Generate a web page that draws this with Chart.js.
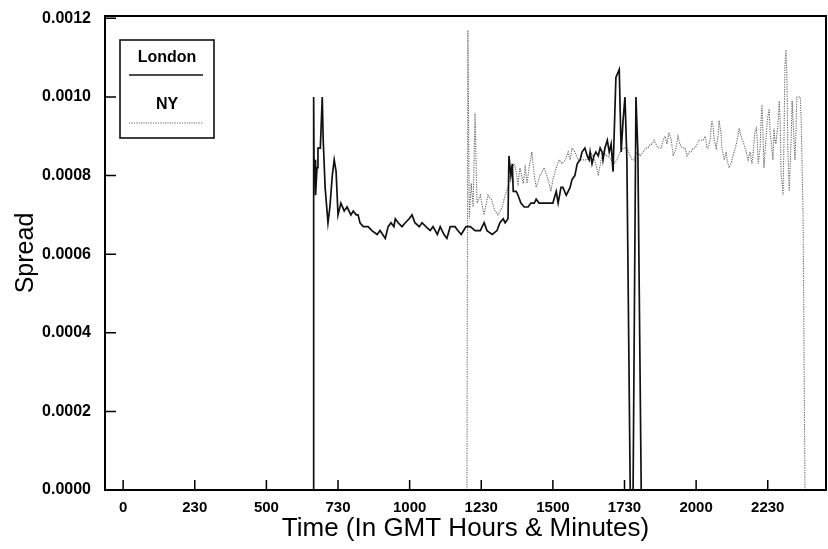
<!DOCTYPE html>
<html>
<head>
<meta charset="utf-8">
<script src="https://cdn.jsdelivr.net/npm/chart.js@4.4.1/dist/chart.umd.min.js"></script>
<style>
  html, body { margin: 0; padding: 0; background: #fff; }
  #wrap { width: 828px; height: 549px; }
</style>
</head>
<body>
<div id="wrap"><canvas id="spreadChart" width="828" height="549"></canvas></div>
<script>
// time of day in minutes after midnight GMT, spread
const londonTime = [398, 399, 400, 402, 403, 406, 408, 413, 417, 419,
  423, 429, 433, 438, 442, 446, 450, 456, 463, 469,
  477, 482, 488, 492, 496, 503, 513, 521, 532, 538,
  549, 555, 561, 567, 570, 576, 584, 591, 599, 605,
  611, 620, 626, 634, 643, 649, 658, 664, 672, 678,
  685, 695, 701, 708, 718, 727, 737, 748, 756, 762,
  773, 783, 789, 796, 800, 806, 808, 812, 815, 817,
  823, 827, 833, 840, 848, 854, 861, 865, 871, 879,
  888, 894, 900, 907, 911, 917, 921, 928, 932, 936,
  940, 946, 951, 957, 961, 967, 972, 976, 978, 982,
  986, 990, 995, 999, 1003, 1005, 1009, 1014, 1018, 1022,
  1026, 1032, 1039, 1043, 1047, 1051, 1055, 1062, 1068, 1074,
  1078, 1085];
const londonSpread = [0, 0.00100, 0.00078, 0.00084, 0.00075, 0.00082, 0.00087, 0.00087, 0.00100, 0.00089,
  0.00077, 0.00068, 0.00072, 0.00080, 0.00084, 0.00081, 0.00070, 0.00073, 0.00071, 0.00072,
  0.00070, 0.00071, 0.00070, 0.00070, 0.00068, 0.00067, 0.00067, 0.00066, 0.00065, 0.00066,
  0.00064, 0.00067, 0.00068, 0.00067, 0.00069, 0.00068, 0.00067, 0.00068, 0.00069, 0.00070,
  0.00068, 0.00067, 0.00068, 0.00067, 0.00066, 0.00067, 0.00065, 0.00067, 0.00065, 0.00064,
  0.00067, 0.00067, 0.00066, 0.00065, 0.00067, 0.00067, 0.00066, 0.00066, 0.00068, 0.00066,
  0.00065, 0.00066, 0.00068, 0.00069, 0.00068, 0.00069, 0.00085, 0.00080, 0.00083, 0.00076,
  0.00076, 0.00075, 0.00073, 0.00072, 0.00072, 0.00073, 0.00073, 0.00074, 0.00073, 0.00073,
  0.00073, 0.00073, 0.00073, 0.00076, 0.00073, 0.00077, 0.00077, 0.00075, 0.00076, 0.00077,
  0.00079, 0.00080, 0.00083, 0.00084, 0.00086, 0.00087, 0.00085, 0.00084, 0.00086, 0.00083,
  0.00085, 0.00086, 0.00085, 0.00087, 0.00086, 0.00084, 0.00087, 0.00089, 0.00086, 0.00088,
  0.00081, 0.00105, 0.00107, 0.00086, 0.00094, 0.00100, 0.00084, 0, 0, 0.00100,
  0.00086, 0];

const nyTime = [720, 722, 725, 729, 733, 737, 741, 748, 756, 764,
  771, 779, 785, 794, 800, 806, 810, 815, 819, 823,
  827, 831, 838, 842, 846, 850, 856, 861, 865, 873,
  882, 890, 896, 900, 907, 913, 919, 926, 932, 936,
  940, 946, 953, 959, 965, 972, 978, 984, 990, 995,
  1001, 1007, 1011, 1016, 1022, 1028, 1034, 1041, 1047, 1055,
  1062, 1066, 1070, 1076, 1083, 1089, 1095, 1099, 1104, 1108,
  1112, 1116, 1120, 1127, 1131, 1135, 1139, 1143, 1148, 1152,
  1158, 1162, 1166, 1171, 1177, 1181, 1185, 1189, 1194, 1198,
  1202, 1206, 1210, 1215, 1219, 1223, 1225, 1229, 1233, 1235,
  1238, 1242, 1246, 1248, 1252, 1254, 1259, 1263, 1265, 1269,
  1273, 1277, 1282, 1286, 1290, 1294, 1300, 1305, 1309, 1313,
  1317, 1319, 1323, 1326, 1328, 1330, 1334, 1336, 1338, 1340,
  1342, 1346, 1349, 1353, 1355, 1357, 1361, 1363, 1365, 1367,
  1372, 1374, 1376, 1378, 1380, 1382, 1384, 1386, 1388, 1390,
  1392, 1395, 1399, 1401, 1403, 1407, 1409, 1411, 1416, 1418,
  1420, 1422, 1424, 1428];
const nySpread = [0, 0.00117, 0.00069, 0.00078, 0.00072, 0.00096, 0.00073, 0.00075, 0.00070, 0.00075,
  0.00074, 0.00071, 0.00070, 0.00072, 0.00075, 0.00077, 0.00080, 0.00082, 0.00083, 0.00081,
  0.00078, 0.00082, 0.00078, 0.00082, 0.00078, 0.00082, 0.00086, 0.00080, 0.00077, 0.00080,
  0.00082, 0.00079, 0.00076, 0.00079, 0.00082, 0.00084, 0.00083, 0.00084, 0.00086, 0.00084,
  0.00087, 0.00086, 0.00084, 0.00084, 0.00084, 0.00084, 0.00086, 0.00085, 0.00083, 0.00080,
  0.00084, 0.00086, 0.00085, 0.00085, 0.00084, 0.00083, 0.00084, 0.00086, 0.00087, 0.00087,
  0.00085, 0.00084, 0.00084, 0.00086, 0.00085, 0.00086, 0.00087, 0.00087, 0.00088, 0.00088,
  0.00089, 0.00088, 0.00087, 0.00087, 0.00089, 0.00090, 0.00088, 0.00091, 0.00089, 0.00085,
  0.00087, 0.00090, 0.00088, 0.00087, 0.00087, 0.00085, 0.00086, 0.00086, 0.00087, 0.00087,
  0.00088, 0.00089, 0.00089, 0.00089, 0.00090, 0.00087, 0.00087, 0.00089, 0.00094, 0.00093,
  0.00089, 0.00087, 0.00090, 0.00094, 0.00091, 0.00087, 0.00084, 0.00086, 0.00084, 0.00082,
  0.00083, 0.00085, 0.00087, 0.00089, 0.00092, 0.00090, 0.00088, 0.00086, 0.00084, 0.00086,
  0.00083, 0.00085, 0.00091, 0.00092, 0.00089, 0.00083, 0.00087, 0.00094, 0.00098, 0.00091,
  0.00082, 0.00089, 0.00094, 0.00097, 0.00091, 0.00089, 0.00084, 0.00092, 0.00089, 0.00088,
  0.00094, 0.00099, 0.00094, 0.00080, 0.00078, 0.00075, 0.00089, 0.00108, 0.00112, 0.00106,
  0.00087, 0.00076, 0.00089, 0.00099, 0.00094, 0.00084, 0.00091, 0.00100, 0.00100, 0.00100,
  0.00094, 0.00082, 0.00070, 0];

// x ticks every 2.5 hours, labelled HHMM
const xTickValues = [0, 150, 300, 450, 600, 750, 900, 1050, 1200, 1350];
const xTickLabels = ['0', '230', '500', '730', '1000', '1230', '1500', '1730', '2000', '2230'];
const yTickValues = [0, 0.0002, 0.0004, 0.0006, 0.0008, 0.0010, 0.0012];

const FONT = '"Liberation Sans", Arial, Helvetica, sans-serif';

const toPoints = (times, values) => times.map((t, i) => ({ x: t, y: values[i] }));

// box round the plot, inward tick marks, and the boxed legend
const framePlugin = {
    id: 'framePlugin',
    afterDatasetsDraw(chart) {
        const { ctx, chartArea: a, scales: { x, y } } = chart;
        ctx.save();
        ctx.strokeStyle = '#000';
        ctx.lineWidth = 2;
        ctx.strokeRect(a.left, a.top, a.right - a.left, a.bottom - a.top);

        ctx.lineWidth = 1.5;
        ctx.beginPath();
        x.ticks.forEach(t => {
            const px = x.getPixelForValue(t.value);
            ctx.moveTo(px, a.bottom);
            ctx.lineTo(px, a.bottom - 10);
        });
        y.ticks.forEach(t => {
            const py = y.getPixelForValue(t.value);
            ctx.moveTo(a.left, py);
            ctx.lineTo(a.left + 11, py);
        });
        ctx.stroke();

        // legend: name above a sample of the line
        const lx = 120, ly = 40, lw = 94, lh = 98;
        ctx.fillStyle = '#fff';
        ctx.fillRect(lx, ly, lw, lh);
        ctx.lineWidth = 1.5;
        ctx.strokeRect(lx, ly, lw, lh);
        ctx.font = 'bold 16px ' + FONT;
        ctx.textAlign = 'center';
        ctx.textBaseline = 'middle';
        chart.data.datasets.forEach((ds, i) => {
            const top = ly + 18 + i * 47;
            ctx.fillStyle = '#000';
            ctx.fillText(ds.label, lx + lw / 2, top);
            ctx.strokeStyle = ds.borderColor;
            ctx.lineWidth = ds.borderWidth;
            ctx.setLineDash(ds.borderDash || []);
            ctx.beginPath();
            ctx.moveTo(lx + 9, top + 17 + i);
            ctx.lineTo(lx + lw - 11, top + 17 + i);
            ctx.stroke();
            ctx.setLineDash([]);
        });
        ctx.restore();
    }
};

const ctx = document.getElementById('spreadChart').getContext('2d');

const spreadChart = new Chart(ctx, {
    type: 'line',
    data: {
        datasets: [{
            label: 'London',
            data: toPoints(londonTime, londonSpread),
            borderColor: '#111',
            borderWidth: 1.7,
            pointRadius: 0,
            tension: 0,
            fill: false
        }, {
            label: 'NY',
            data: toPoints(nyTime, nySpread),
            borderColor: '#666',
            borderWidth: 1.1,
            borderDash: [1.2, 1.2],
            pointRadius: 0,
            tension: 0,
            fill: false
        }]
    },
    options: {
        responsive: false,
        animation: false,
        layout: { padding: { top: 16, right: 2, left: 0, bottom: 0 } },
        plugins: {
            legend: { display: false },
            tooltip: { enabled: false }
        },
        scales: {
            x: {
                type: 'linear',
                min: -38,
                max: 1472,
                grid: { display: false, drawTicks: false },
                border: { display: false },
                afterBuildTicks: (scale) => {
                    scale.ticks = xTickValues.map(v => ({ value: v }));
                },
                afterFit: (scale) => {
                    scale.height = 59;
                    scale.paddingLeft = 0;
                    scale.paddingRight = 0;
                },
                ticks: {
                    autoSkip: false,
                    maxRotation: 0,
                    padding: 9,
                    color: '#000',
                    font: { family: FONT, size: 15, weight: 'bold' },
                    callback: (value, index) => xTickLabels[index]
                },
                title: {
                    display: true,
                    text: 'Time (In GMT Hours & Minutes)',
                    color: '#000',
                    font: { family: FONT, size: 26 },
                    padding: { top: 0, bottom: 5 }
                }
            },
            y: {
                min: 0,
                max: 0.001206,
                grid: { display: false, drawTicks: false },
                border: { display: false },
                afterBuildTicks: (scale) => {
                    scale.ticks = yTickValues.map(v => ({ value: v }));
                },
                afterFit: (scale) => {
                    scale.width = 105;
                    scale.paddingTop = 0;
                    scale.paddingBottom = 0;
                },
                ticks: {
                    padding: 14,
                    color: '#000',
                    font: { family: FONT, size: 16, weight: 'bold' },
                    callback: (value, index) => yTickValues[index].toFixed(4)
                },
                title: {
                    display: true,
                    text: 'Spread',
                    color: '#000',
                    font: { family: FONT, size: 25 },
                    padding: { top: 11, bottom: 0 }
                }
            }
        }
    },
    plugins: [framePlugin]
});
</script>
</body>
</html>
